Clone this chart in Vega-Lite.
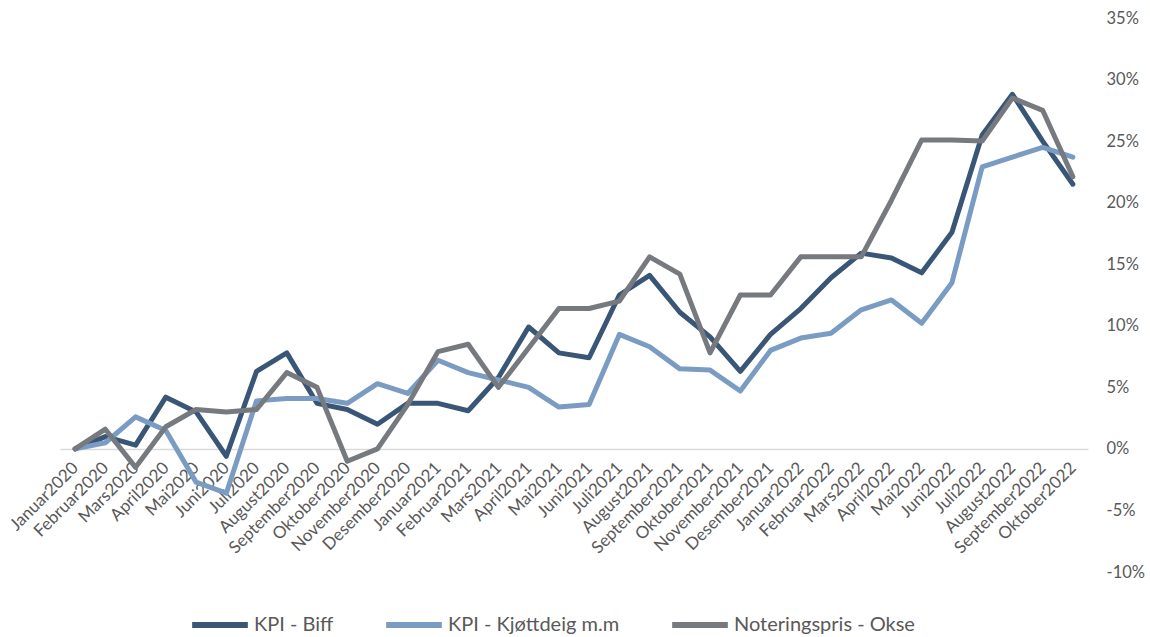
{
  "$schema": "https://vega.github.io/schema/vega-lite/v6.json",
  "width": 1028,
  "height": 554,
  "autosize": "none",
  "padding": {"left": 60, "top": 18, "right": 62, "bottom": 65},
  "background": "white",
  "config": {"view": {"stroke": null}, "font": "Lato"},
  "datasets": {
    "rows": [
      {"m": "Januar2020", "i": 1, "s": "KPI - Biff", "v": 0.0},
      {"m": "Februar2020", "i": 2, "s": "KPI - Biff", "v": 1.0},
      {"m": "Mars2020", "i": 3, "s": "KPI - Biff", "v": 0.3},
      {"m": "April2020", "i": 4, "s": "KPI - Biff", "v": 4.2},
      {"m": "Mai2020", "i": 5, "s": "KPI - Biff", "v": 3.0},
      {"m": "Juni2020", "i": 6, "s": "KPI - Biff", "v": -0.6},
      {"m": "Juli2020", "i": 7, "s": "KPI - Biff", "v": 6.3},
      {"m": "August2020", "i": 8, "s": "KPI - Biff", "v": 7.8},
      {"m": "September2020", "i": 9, "s": "KPI - Biff", "v": 3.7},
      {"m": "Oktober2020", "i": 10, "s": "KPI - Biff", "v": 3.2},
      {"m": "November2020", "i": 11, "s": "KPI - Biff", "v": 2.0},
      {"m": "Desember2020", "i": 12, "s": "KPI - Biff", "v": 3.7},
      {"m": "Januar2021", "i": 13, "s": "KPI - Biff", "v": 3.7},
      {"m": "Februar2021", "i": 14, "s": "KPI - Biff", "v": 3.1},
      {"m": "Mars2021", "i": 15, "s": "KPI - Biff", "v": 5.8},
      {"m": "April2021", "i": 16, "s": "KPI - Biff", "v": 9.9},
      {"m": "Mai2021", "i": 17, "s": "KPI - Biff", "v": 7.8},
      {"m": "Juni2021", "i": 18, "s": "KPI - Biff", "v": 7.4},
      {"m": "Juli2021", "i": 19, "s": "KPI - Biff", "v": 12.5},
      {"m": "August2021", "i": 20, "s": "KPI - Biff", "v": 14.1},
      {"m": "September2021", "i": 21, "s": "KPI - Biff", "v": 11.1},
      {"m": "Oktober2021", "i": 22, "s": "KPI - Biff", "v": 9.1},
      {"m": "November2021", "i": 23, "s": "KPI - Biff", "v": 6.3},
      {"m": "Desember2021", "i": 24, "s": "KPI - Biff", "v": 9.3},
      {"m": "Januar2022", "i": 25, "s": "KPI - Biff", "v": 11.4},
      {"m": "Februar2022", "i": 26, "s": "KPI - Biff", "v": 13.9},
      {"m": "Mars2022", "i": 27, "s": "KPI - Biff", "v": 15.9},
      {"m": "April2022", "i": 28, "s": "KPI - Biff", "v": 15.5},
      {"m": "Mai2022", "i": 29, "s": "KPI - Biff", "v": 14.3},
      {"m": "Juni2022", "i": 30, "s": "KPI - Biff", "v": 17.6},
      {"m": "Juli2022", "i": 31, "s": "KPI - Biff", "v": 25.5},
      {"m": "August2022", "i": 32, "s": "KPI - Biff", "v": 28.8},
      {"m": "September2022", "i": 33, "s": "KPI - Biff", "v": 25.0},
      {"m": "Oktober2022", "i": 34, "s": "KPI - Biff", "v": 21.5},

      {"m": "Januar2020", "i": 1, "s": "KPI - Kjøttdeig m.m", "v": 0.0},
      {"m": "Februar2020", "i": 2, "s": "KPI - Kjøttdeig m.m", "v": 0.5},
      {"m": "Mars2020", "i": 3, "s": "KPI - Kjøttdeig m.m", "v": 2.6},
      {"m": "April2020", "i": 4, "s": "KPI - Kjøttdeig m.m", "v": 1.5},
      {"m": "Mai2020", "i": 5, "s": "KPI - Kjøttdeig m.m", "v": -2.7},
      {"m": "Juni2020", "i": 6, "s": "KPI - Kjøttdeig m.m", "v": -3.6},
      {"m": "Juli2020", "i": 7, "s": "KPI - Kjøttdeig m.m", "v": 3.9},
      {"m": "August2020", "i": 8, "s": "KPI - Kjøttdeig m.m", "v": 4.1},
      {"m": "September2020", "i": 9, "s": "KPI - Kjøttdeig m.m", "v": 4.1},
      {"m": "Oktober2020", "i": 10, "s": "KPI - Kjøttdeig m.m", "v": 3.7},
      {"m": "November2020", "i": 11, "s": "KPI - Kjøttdeig m.m", "v": 5.3},
      {"m": "Desember2020", "i": 12, "s": "KPI - Kjøttdeig m.m", "v": 4.5},
      {"m": "Januar2021", "i": 13, "s": "KPI - Kjøttdeig m.m", "v": 7.2},
      {"m": "Februar2021", "i": 14, "s": "KPI - Kjøttdeig m.m", "v": 6.2},
      {"m": "Mars2021", "i": 15, "s": "KPI - Kjøttdeig m.m", "v": 5.6},
      {"m": "April2021", "i": 16, "s": "KPI - Kjøttdeig m.m", "v": 5.0},
      {"m": "Mai2021", "i": 17, "s": "KPI - Kjøttdeig m.m", "v": 3.4},
      {"m": "Juni2021", "i": 18, "s": "KPI - Kjøttdeig m.m", "v": 3.6},
      {"m": "Juli2021", "i": 19, "s": "KPI - Kjøttdeig m.m", "v": 9.3},
      {"m": "August2021", "i": 20, "s": "KPI - Kjøttdeig m.m", "v": 8.3},
      {"m": "September2021", "i": 21, "s": "KPI - Kjøttdeig m.m", "v": 6.5},
      {"m": "Oktober2021", "i": 22, "s": "KPI - Kjøttdeig m.m", "v": 6.4},
      {"m": "November2021", "i": 23, "s": "KPI - Kjøttdeig m.m", "v": 4.7},
      {"m": "Desember2021", "i": 24, "s": "KPI - Kjøttdeig m.m", "v": 8.0},
      {"m": "Januar2022", "i": 25, "s": "KPI - Kjøttdeig m.m", "v": 9.0},
      {"m": "Februar2022", "i": 26, "s": "KPI - Kjøttdeig m.m", "v": 9.4},
      {"m": "Mars2022", "i": 27, "s": "KPI - Kjøttdeig m.m", "v": 11.3},
      {"m": "April2022", "i": 28, "s": "KPI - Kjøttdeig m.m", "v": 12.1},
      {"m": "Mai2022", "i": 29, "s": "KPI - Kjøttdeig m.m", "v": 10.2},
      {"m": "Juni2022", "i": 30, "s": "KPI - Kjøttdeig m.m", "v": 13.5},
      {"m": "Juli2022", "i": 31, "s": "KPI - Kjøttdeig m.m", "v": 22.9},
      {"m": "August2022", "i": 32, "s": "KPI - Kjøttdeig m.m", "v": 23.7},
      {"m": "September2022", "i": 33, "s": "KPI - Kjøttdeig m.m", "v": 24.5},
      {"m": "Oktober2022", "i": 34, "s": "KPI - Kjøttdeig m.m", "v": 23.7},

      {"m": "Januar2020", "i": 1, "s": "Noteringspris - Okse", "v": 0.0},
      {"m": "Februar2020", "i": 2, "s": "Noteringspris - Okse", "v": 1.6},
      {"m": "Mars2020", "i": 3, "s": "Noteringspris - Okse", "v": -1.5},
      {"m": "April2020", "i": 4, "s": "Noteringspris - Okse", "v": 1.8},
      {"m": "Mai2020", "i": 5, "s": "Noteringspris - Okse", "v": 3.2},
      {"m": "Juni2020", "i": 6, "s": "Noteringspris - Okse", "v": 3.0},
      {"m": "Juli2020", "i": 7, "s": "Noteringspris - Okse", "v": 3.2},
      {"m": "August2020", "i": 8, "s": "Noteringspris - Okse", "v": 6.2},
      {"m": "September2020", "i": 9, "s": "Noteringspris - Okse", "v": 5.0},
      {"m": "Oktober2020", "i": 10, "s": "Noteringspris - Okse", "v": -1.0},
      {"m": "November2020", "i": 11, "s": "Noteringspris - Okse", "v": 0.0},
      {"m": "Desember2020", "i": 12, "s": "Noteringspris - Okse", "v": 3.6},
      {"m": "Januar2021", "i": 13, "s": "Noteringspris - Okse", "v": 7.9},
      {"m": "Februar2021", "i": 14, "s": "Noteringspris - Okse", "v": 8.5},
      {"m": "Mars2021", "i": 15, "s": "Noteringspris - Okse", "v": 5.0},
      {"m": "April2021", "i": 16, "s": "Noteringspris - Okse", "v": 8.2},
      {"m": "Mai2021", "i": 17, "s": "Noteringspris - Okse", "v": 11.4},
      {"m": "Juni2021", "i": 18, "s": "Noteringspris - Okse", "v": 11.4},
      {"m": "Juli2021", "i": 19, "s": "Noteringspris - Okse", "v": 12.0},
      {"m": "August2021", "i": 20, "s": "Noteringspris - Okse", "v": 15.6},
      {"m": "September2021", "i": 21, "s": "Noteringspris - Okse", "v": 14.2},
      {"m": "Oktober2021", "i": 22, "s": "Noteringspris - Okse", "v": 7.8},
      {"m": "November2021", "i": 23, "s": "Noteringspris - Okse", "v": 12.5},
      {"m": "Desember2021", "i": 24, "s": "Noteringspris - Okse", "v": 12.5},
      {"m": "Januar2022", "i": 25, "s": "Noteringspris - Okse", "v": 15.6},
      {"m": "Februar2022", "i": 26, "s": "Noteringspris - Okse", "v": 15.6},
      {"m": "Mars2022", "i": 27, "s": "Noteringspris - Okse", "v": 15.6},
      {"m": "April2022", "i": 28, "s": "Noteringspris - Okse", "v": 20.2},
      {"m": "Mai2022", "i": 29, "s": "Noteringspris - Okse", "v": 25.1},
      {"m": "Juni2022", "i": 30, "s": "Noteringspris - Okse", "v": 25.1},
      {"m": "Juli2022", "i": 31, "s": "Noteringspris - Okse", "v": 25.0},
      {"m": "August2022", "i": 32, "s": "Noteringspris - Okse", "v": 28.5},
      {"m": "September2022", "i": 33, "s": "Noteringspris - Okse", "v": 27.5},
      {"m": "Oktober2022", "i": 34, "s": "Noteringspris - Okse", "v": 22.1}
    ]
  },
  "data": {"name": "rows"},
  "transform": [{"calculate": "datum.v / 100", "as": "p"}],
  "mark": {"type": "line", "strokeWidth": 5, "strokeJoin": "round", "strokeCap": "round"},
  "encoding": {
    "x": {
      "field": "m",
      "type": "ordinal",
      "sort": {"field": "i", "order": "ascending"},
      "scale": {"type": "point", "padding": 0.5},
      "axis": {
        "title": null,
        "offset": -123,
        "domain": true,
        "domainColor": "#d9d9d9",
        "domainWidth": 1.5,
        "ticks": false,
        "grid": false,
        "labelAngle": -45,
        "labelAlign": "right",
        "labelBaseline": "middle",
        "labelPadding": 16,
        "labelFontSize": 17,
        "labelColor": "#595959",
        "labelFont": "Lato",
        "labelOverlap": false,
        "labelBound": false
      }
    },
    "y": {
      "field": "p",
      "type": "quantitative",
      "scale": {"domain": [-0.1, 0.35], "nice": false, "zero": false},
      "axis": {
        "orient": "right",
        "title": null,
        "labelExpr": "replace(format(datum.value, '.0%'), '\u2212', '-')",
        "values": [-0.1, -0.05, 0, 0.05, 0.1, 0.15, 0.2, 0.25, 0.3, 0.35],
        "domain": false,
        "ticks": false,
        "grid": false,
        "labelAlign": "left",
        "labelPadding": 18,
        "labelFontSize": 16.5,
        "labelColor": "#595959",
        "labelFont": "Lato"
      }
    },
    "color": {
      "field": "s",
      "type": "nominal",
      "scale": {
        "domain": ["KPI - Biff", "KPI - Kjøttdeig m.m", "Noteringspris - Okse"],
        "range": ["#3a5677", "#7a9cc2", "#76797e"]
      },
      "legend": {
        "title": null,
        "orient": "none",
        "direction": "horizontal",
        "legendX": 129,
        "legendY": 576,
        "symbolType": "stroke",
        "symbolSize": 3100,
        "symbolStrokeWidth": 6,
        "labelFontSize": 20,
        "labelColor": "#595959",
        "labelFont": "Lato",
        "columnPadding": 40,
        "labelOffset": 3,
        "labelLimit": 400
      }
    }
  }
}
